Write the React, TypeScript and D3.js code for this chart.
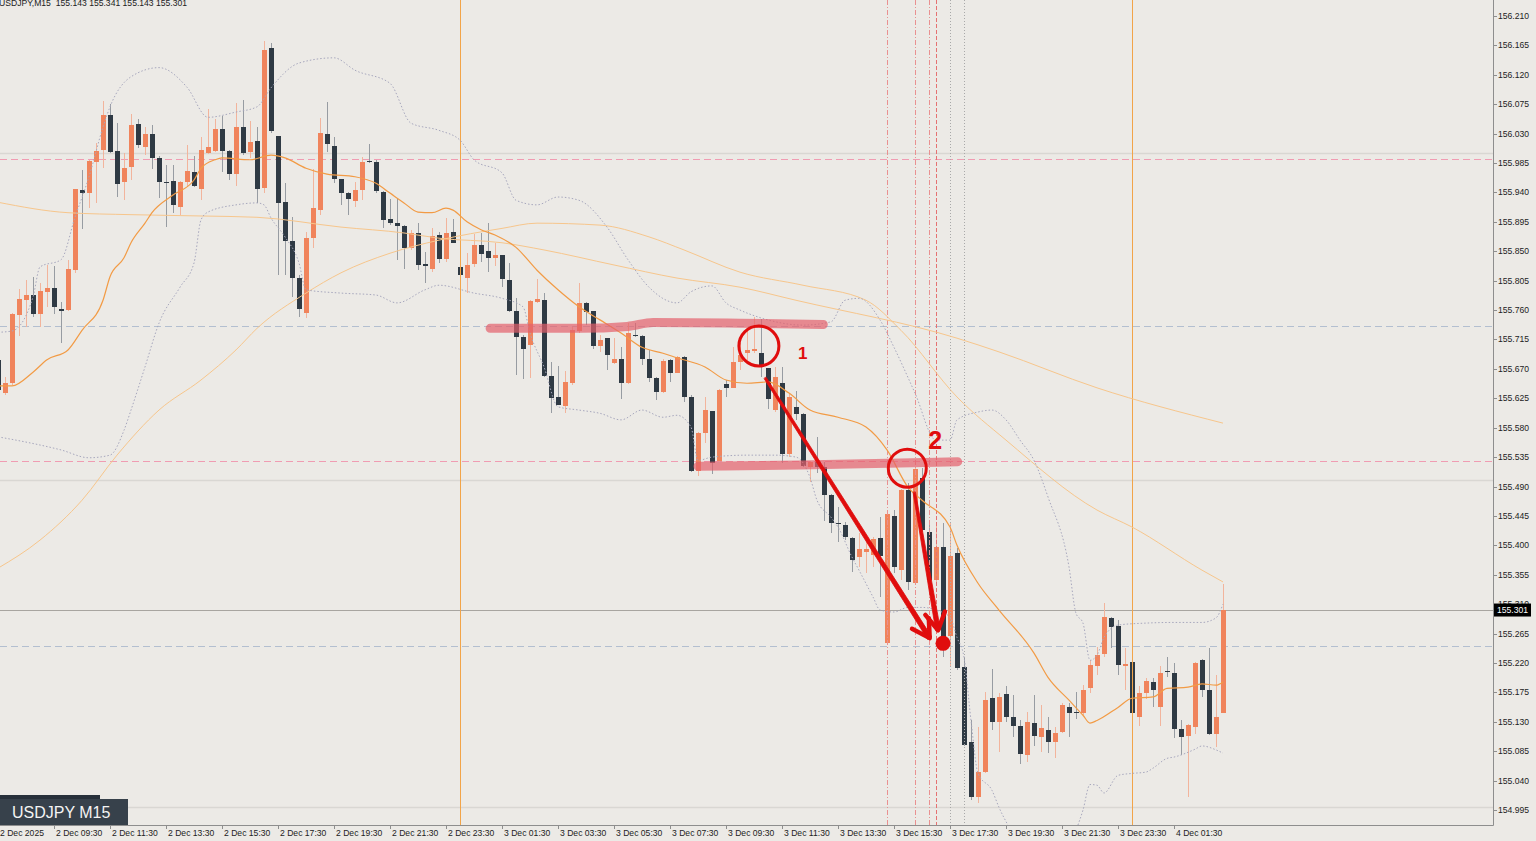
import React from 'react';
import * as d3 from 'd3';

const W = 1536;
const H = 841;
const PLOT_R = 1493;
const PLOT_B = 825;

const headerText = 'USDJPY,M15  155.143 155.341 155.143 155.301';
const symbolLabel = 'USDJPY M15';

// [open, high, low, close] for each 15-minute bar, starting 2 Dec 07:30
const ohlc: number[][] = [
[155.684,155.691,155.630,155.638],
[155.633,155.657,155.630,155.648],
[155.648,155.755,155.645,155.754],
[155.752,155.792,155.720,155.777],
[155.775,155.806,155.734,155.783],
[155.783,155.811,155.749,155.754],
[155.754,155.801,155.734,155.789],
[155.788,155.829,155.765,155.794],
[155.794,155.827,155.754,155.765],
[155.762,155.772,155.710,155.758],
[155.760,155.837,155.758,155.823],
[155.821,155.946,155.817,155.945],
[155.944,155.974,155.884,155.939],
[155.939,155.990,155.916,155.988],
[155.987,156.016,155.924,156.003],
[156.005,156.080,155.977,156.058],
[156.058,156.075,156.000,156.002],
[156.003,156.046,155.933,155.953],
[155.956,156.000,155.928,155.977],
[155.979,156.060,155.959,156.043],
[156.045,156.052,156.008,156.013],
[156.010,156.040,155.997,156.030],
[156.030,156.043,155.976,155.993],
[155.993,155.996,155.931,155.956],
[155.956,155.982,155.887,155.954],
[155.957,155.982,155.909,155.921],
[155.918,155.957,155.906,155.956],
[155.956,156.013,155.948,155.973],
[155.971,155.996,155.948,155.950],
[155.945,156.025,155.928,156.005],
[156.000,156.068,155.999,156.010],
[156.003,156.052,156.002,156.037],
[156.037,156.057,155.971,156.003],
[156.003,156.005,155.959,155.968],
[155.968,156.077,155.950,156.040],
[156.040,156.081,155.997,156.000],
[156.002,156.049,155.993,156.017],
[156.019,156.040,155.924,155.945],
[155.947,156.172,155.939,156.158],
[156.161,156.169,156.031,156.034],
[156.026,156.027,155.814,155.924],
[155.925,155.954,155.814,155.866],
[155.866,155.902,155.780,155.809],
[155.809,155.814,155.749,155.762],
[155.755,155.879,155.748,155.870],
[155.870,155.976,155.855,155.916],
[155.913,156.054,155.906,156.031],
[156.030,156.078,156.002,156.014],
[156.011,156.025,155.954,155.960],
[155.960,155.961,155.921,155.939],
[155.939,155.940,155.906,155.930],
[155.927,155.956,155.918,155.944],
[155.944,155.994,155.928,155.987],
[155.988,156.014,155.985,155.987],
[155.987,155.990,155.939,155.942],
[155.941,155.942,155.886,155.898],
[155.899,155.930,155.890,155.893],
[155.893,155.931,155.837,155.889],
[155.889,155.890,155.823,155.855],
[155.855,155.882,155.852,155.878],
[155.878,155.893,155.821,155.829],
[155.830,155.849,155.801,155.827],
[155.823,155.886,155.818,155.873],
[155.875,155.879,155.832,155.838],
[155.838,155.901,155.833,155.878],
[155.879,155.899,155.862,155.863],
[155.826,155.829,155.809,155.814],
[155.809,155.847,155.786,155.829],
[155.830,155.876,155.826,155.860],
[155.860,155.878,155.833,155.846],
[155.850,155.893,155.818,155.840],
[155.840,155.863,155.827,155.844],
[155.844,155.845,155.795,155.807],
[155.806,155.832,155.757,155.758],
[155.758,155.778,155.660,155.719],
[155.719,155.722,155.654,155.700],
[155.706,155.775,155.656,155.774],
[155.772,155.807,155.771,155.777],
[155.775,155.786,155.657,155.659],
[155.659,155.680,155.602,155.625],
[155.627,155.674,155.614,155.615],
[155.613,155.667,155.602,155.650],
[155.648,155.734,155.645,155.729],
[155.728,155.801,155.725,155.771],
[155.771,155.772,155.737,155.757],
[155.758,155.759,155.700,155.705],
[155.705,155.722,155.696,155.714],
[155.717,155.718,155.668,155.691],
[155.679,155.717,155.678,155.685],
[155.685,155.703,155.624,155.648],
[155.648,155.740,155.647,155.725],
[155.722,155.740,155.719,155.720],
[155.720,155.722,155.676,155.685],
[155.685,155.699,155.650,155.656],
[155.656,155.657,155.622,155.634],
[155.634,155.685,155.633,155.682],
[155.684,155.685,155.650,155.664],
[155.664,155.690,155.663,155.688],
[155.688,155.689,155.619,155.627],
[155.627,155.630,155.512,155.514],
[155.514,155.573,155.506,155.572],
[155.572,155.627,155.556,155.607],
[155.605,155.606,155.509,155.526],
[155.529,155.639,155.527,155.638],
[155.647,155.653,155.627,155.641],
[155.641,155.703,155.640,155.680],
[155.680,155.709,155.668,155.691],
[155.694,155.732,155.684,155.699],
[155.697,155.749,155.694,155.700],
[155.694,155.746,155.657,155.673],
[155.671,155.672,155.608,155.624],
[155.607,155.673,155.604,155.657],
[155.648,155.673,155.526,155.540],
[155.540,155.633,155.535,155.627],
[155.611,155.636,155.592,155.601],
[155.601,155.602,155.520,155.521],
[155.520,155.529,155.497,155.527],
[155.527,155.566,155.510,155.520],
[155.520,155.527,155.438,155.477],
[155.477,155.478,155.419,155.434],
[155.434,155.458,155.405,155.432],
[155.431,155.435,155.408,155.412],
[155.411,155.412,155.359,155.377],
[155.382,155.419,155.367,155.394],
[155.390,155.411,155.357,155.394],
[155.385,155.412,155.367,155.409],
[155.411,155.443,155.321,155.383],
[155.250,155.454,155.249,155.448],
[155.445,155.454,155.357,155.367],
[155.362,155.486,155.347,155.485],
[155.485,155.495,155.331,155.344],
[155.342,155.520,155.339,155.517],
[155.503,155.518,155.420,155.423],
[155.420,155.434,155.336,155.347],
[155.347,155.435,155.342,155.397],
[155.397,155.434,155.229,155.259],
[155.261,155.434,155.214,155.383],
[155.388,155.396,155.209,155.212],
[155.214,155.229,155.093,155.094],
[155.099,155.132,155.010,155.015],
[155.015,155.122,155.005,155.053],
[155.053,155.175,155.051,155.163],
[155.166,155.210,155.117,155.129],
[155.129,155.174,155.083,155.168],
[155.172,155.184,155.129,155.138],
[155.137,155.171,155.106,155.123],
[155.123,155.132,155.066,155.080],
[155.079,155.145,155.068,155.129],
[155.128,155.171,155.093,155.108],
[155.106,155.155,155.083,155.120],
[155.117,155.137,155.082,155.099],
[155.099,155.122,155.074,155.113],
[155.114,155.158,155.113,155.155],
[155.152,155.158,155.106,155.143],
[155.145,155.175,155.135,155.143],
[155.143,155.186,155.140,155.178],
[155.181,155.224,155.174,155.217],
[155.215,155.244,155.201,155.232],
[155.233,155.312,155.229,155.290],
[155.289,155.290,155.243,155.275],
[155.276,155.285,155.201,155.217],
[155.215,155.243,155.178,155.218],
[155.221,155.222,155.142,155.143],
[155.137,155.184,155.123,155.174],
[155.174,155.197,155.165,155.192],
[155.191,155.197,155.152,155.178],
[155.152,155.215,155.123,155.204],
[155.207,155.229,155.198,155.206],
[155.204,155.220,155.105,155.119],
[155.119,155.132,155.079,155.106],
[155.108,155.126,155.015,155.125],
[155.122,155.221,155.111,155.220],
[155.224,155.226,155.168,155.178],
[155.178,155.243,155.110,155.111],
[155.111,155.201,155.091,155.137],
[155.143,155.341,155.143,155.301],
];

const timeLabels = [
  '2 Dec 2025', '2 Dec 09:30', '2 Dec 11:30', '2 Dec 13:30', '2 Dec 15:30', '2 Dec 17:30',
  '2 Dec 19:30', '2 Dec 21:30', '2 Dec 23:30', '3 Dec 01:30', '3 Dec 03:30', '3 Dec 05:30',
  '3 Dec 07:30', '3 Dec 09:30', '3 Dec 11:30', '3 Dec 13:30', '3 Dec 15:30', '3 Dec 17:30',
  '3 Dec 19:30', '3 Dec 21:30', '3 Dec 23:30', '4 Dec 01:30',
];
const barsPerLabel = 8;

const priceTicks = [
  156.210, 156.165, 156.120, 156.075, 156.030, 155.985, 155.940, 155.895, 155.850, 155.805,
  155.760, 155.715, 155.670, 155.625, 155.580, 155.535, 155.490, 155.445, 155.400, 155.355,
  155.310, 155.265, 155.220, 155.175, 155.130, 155.085, 155.040, 154.995,
];

// indicator readings: [bar index, price]
const maFast: number[][] = [
[0,155.644],[2,155.644],[5,155.665],[7,155.684],[10,155.699],[12,155.729],[15,155.775],[16,155.811],
[18,155.840],[19,155.863],[21,155.893],[22,155.909],[25,155.936],[28,155.959],[29,155.977],[31,155.990],
[32,155.993],[36,155.990],[39,155.997],[41,155.993],[44,155.977],[47,155.968],[51,155.964],[54,155.954],
[56,155.939],[58,155.924],[60,155.910],[62,155.909],[64,155.916],[65,155.913],[67,155.895],[69,155.883],
[71,155.875],[74,155.856],[77,155.821],[80,155.791],[83,155.765],[86,155.745],[89,155.725],[92,155.703],
[95,155.694],[97,155.687],[101,155.673],[104,155.653],[107,155.648],[110,155.650],[113,155.633],[116,155.607],
[120,155.596],[124,155.581],[127,155.546],[130,155.489],[132,155.469],[136,155.428],[137,155.400],[140,155.342],
[143,155.301],[148,155.235],[150,155.198],[153,155.163],[155,155.140],[156,155.128],[157,155.132],[160,155.152],
[162,155.166],[165,155.168],[167,155.181],[170,155.183],[172,155.188],[174,155.186],[175,155.191],
];

const maMid: number[][] = [
[0,155.365],[6,155.408],[12,155.469],[17,155.538],[23,155.607],[29,155.653],[34,155.699],[37,155.732],
[44,155.786],[49,155.817],[56,155.847],[63,155.867],[72,155.885],[77,155.893],[86,155.890],[93,155.872],
[98,155.852],[106,155.818],[115,155.798],[124,155.775],[129,155.729],[137,155.627],[144,155.561],[157,155.454],
[162,155.428],[172,155.362],[175,155.344],
];

const maSlow: number[][] = [
[0,155.925],[10,155.909],[19,155.906],[29,155.904],[37,155.902],[49,155.887],[58,155.878],[63,155.870],
[72,155.863],[78,155.852],[88,155.829],[97,155.809],[106,155.795],[114,155.775],[137,155.717],[143,155.696],
[157,155.641],[175,155.587],
];

const bbUpper: number[][] = [
[0,155.726],[2,155.728],[5,155.780],[6,155.826],[9,155.837],[11,155.902],[13,155.964],[15,156.040],
[16,156.071],[19,156.117],[23,156.131],[27,156.101],[30,156.055],[34,156.063],[37,156.071],[39,156.100],
[43,156.138],[48,156.146],[51,156.127],[56,156.107],[59,156.046],[63,156.035],[66,156.020],[68,155.990],
[72,155.970],[74,155.928],[77,155.921],[80,155.933],[83,155.928],[87,155.887],[90,155.837],[93,155.795],
[97,155.771],[99,155.788],[102,155.797],[104,155.771],[106,155.760],[109,155.748],[115,155.737],[119,155.742],
[121,155.775],[123,155.778],[126,155.745],[128,155.703],[131,155.633],[134,155.561],[136,155.561],[137,155.592],
[140,155.604],[142,155.607],[144,155.592],[146,155.561],[148,155.530],[150,155.474],[153,155.367],[154,155.296],
[155,155.281],[156,155.224],[157,155.232],[158,155.259],[160,155.278],[164,155.281],[168,155.282],[172,155.282],
[174,155.289],[175,155.310],
];

const bbLower: number[][] = [
[0,155.566],[4,155.558],[9,155.546],[13,155.534],[16,155.538],[18,155.576],[19,155.607],[21,155.673],
[23,155.740],[26,155.795],[28,155.832],[29,155.898],[30,155.910],[34,155.921],[37,155.924],[38,155.921],
[39,155.901],[41,155.872],[43,155.832],[44,155.791],[49,155.786],[54,155.783],[57,155.771],[61,155.791],
[63,155.798],[68,155.786],[72,155.778],[75,155.765],[76,155.725],[78,155.673],[80,155.612],[83,155.607],
[86,155.602],[89,155.592],[92,155.607],[95,155.596],[97,155.599],[99,155.581],[100,155.530],[102,155.535],
[107,155.538],[111,155.538],[114,155.535],[116,155.504],[117,155.469],[119,155.443],[120,155.428],[122,155.382],
[123,155.362],[125,155.321],[126,155.301],[128,155.298],[130,155.305],[132,155.305],[134,155.301],[136,155.290],
[137,155.259],[138,155.229],[139,155.132],[140,155.051],[142,155.025],[143,154.999],[145,154.956],[147,154.903],
[150,154.888],[152,154.918],[154,154.964],[155,154.995],[156,155.034],[157,155.033],[158,155.021],[160,155.048],
[162,155.051],[164,155.053],[165,155.059],[167,155.074],[168,155.076],[171,155.088],[172,155.093],[174,155.087],
[175,155.082],
];

// horizontal levels (prices)
const roundLevels = [156.000, 155.500, 155.000];
const pinkLevels = [155.991, 155.529];
const blueLevels = [155.735, 155.246];
const lastPrice = 155.301;

// vertical markers (bar indices)
const daySeparators = [66, 162];
const redDashDotBars = [127, 131, 133];
const redDashBars = [134];
const grayDotBars = [136, 138];

// hand-drawn annotations: [bar index, price]
const zoneUpper: number[][] = [[70.3,155.732],[83.1,155.732],[89.9,155.735],[93.6,155.741],[106,155.740],[117.9,155.738]];
const zoneLower: number[][] = [[100,155.521],[114.6,155.523],[128.9,155.526],[137.1,155.528]];
const circles: number[][] = [[108.7,155.705],[129.9,155.518]];
const circleLabels = ['1', '2'];
const circleLabelPos: number[][] = [[114.3,155.685],[132.9,155.548]];
const arrows: number[][][] = [
  [[109.6,155.656],[133.1,155.258]],
  [[130.9,155.481],[134.3,155.270]],
];
const targetDot = [135.0, 155.250];

const x = d3.scaleLinear().domain([0, 175]).range([-2, 1223]);
const y = d3.scaleLinear().domain([154.995, 156.210]).range([810, 16]);

const BG = '#eceae6';
const BULL = '#f0845c';
const BULL_WICK = '#f2b49c';
const BEAR = '#2f3a44';
const BEAR_WICK = '#979ca2';
const FONT = '"Liberation Sans", Arial, sans-serif';

function linePath(pts: number[][]) {
  const g = d3.line<number[]>().x(d => x(d[0])).y(d => y(d[1])).curve(d3.curveMonotoneX);
  return g(pts) || '';
}

function Arrow({ pts }: { pts: number[][] }) {
  const x1 = x(pts[0][0]), y1 = y(pts[0][1]);
  const x2 = x(pts[1][0]), y2 = y(pts[1][1]);
  const ang = Math.atan2(y2 - y1, x2 - x1);
  const len = 20;
  const a1 = ang + Math.PI - 0.52;
  const a2 = ang + Math.PI + 0.52;
  const h1 = [x2 + len * Math.cos(a1), y2 + len * Math.sin(a1)];
  const h2 = [x2 + len * Math.cos(a2), y2 + len * Math.sin(a2)];
  // tapered shaft: thin at the start, thick at the tip
  const nx = -Math.sin(ang), ny = Math.cos(ang);
  const w0 = 1.2, w1 = 2.4;
  const shaft = `M${x1 + nx * w0},${y1 + ny * w0} L${x2 + nx * w1},${y2 + ny * w1} L${x2 - nx * w1},${y2 - ny * w1} L${x1 - nx * w0},${y1 - ny * w0} Z`;
  return (
    <g stroke="#e00d0d" strokeLinecap="round" strokeLinejoin="round">
      <path d={shaft} fill="#e00d0d" strokeWidth={0.8} />
      <polyline points={`${h1[0]},${h1[1]} ${x2},${y2} ${h2[0]},${h2[1]}`} fill="none" strokeWidth={4.5} />
    </g>
  );
}

export default function App() {
  const crisp = (v: number) => Math.round(v) + 0.5;
  return (
    <svg width={W} height={H} style={{ position: 'absolute', left: 0, top: 0, display: 'block' }}
      xmlns="http://www.w3.org/2000/svg">
      <defs>
        <clipPath id="plot"><rect x={0} y={0} width={PLOT_R} height={PLOT_B} /></clipPath>
      </defs>
      <rect x={0} y={0} width={W} height={H} fill={BG} />
      <g clipPath="url(#plot)">
        {roundLevels.map((p, i) => (
          <line key={'r' + i} x1={0} x2={PLOT_R} y1={crisp(y(p))} y2={crisp(y(p))} stroke="#d9d7d3" strokeWidth={1.5} />
        ))}
        {pinkLevels.map((p, i) => (
          <line key={'p' + i} x1={0} x2={PLOT_R} y1={crisp(y(p))} y2={crisp(y(p))} stroke="#f09cb2" strokeDasharray="7,4" />
        ))}
        {blueLevels.map((p, i) => (
          <line key={'b' + i} x1={0} x2={PLOT_R} y1={crisp(y(p))} y2={crisp(y(p))} stroke="#b3bfd0" strokeDasharray="7,4" />
        ))}
        <line x1={0} x2={PLOT_R} y1={crisp(y(lastPrice))} y2={crisp(y(lastPrice))} stroke="#a8a5a0" />

        {ohlc.map((d, i) => {
          const [o, h, l, c] = d;
          const cx = Math.round(x(i));
          const bull = c >= o;
          const top = Math.round(y(Math.max(o, c)));
          const bot = Math.round(y(Math.min(o, c)));
          return (
            <g key={i} shapeRendering="crispEdges">
              <line x1={cx + 0.5} x2={cx + 0.5} y1={y(h)} y2={y(l)} stroke={bull ? BULL_WICK : BEAR_WICK} strokeWidth={1} />
              <rect x={cx - 2} y={top} width={5} height={Math.max(1, bot - top)} fill={bull ? BULL : BEAR} />
            </g>
          );
        })}

        {daySeparators.map((b, i) => (
          <line key={'d' + i} x1={crisp(x(b))} x2={crisp(x(b))} y1={0} y2={PLOT_B} stroke="#f2a449" strokeWidth={1} />
        ))}
        {redDashDotBars.map((b, i) => (
          <line key={'rd' + i} x1={crisp(x(b))} x2={crisp(x(b))} y1={0} y2={PLOT_B} stroke="#e99090" strokeDasharray="5,2,1,2" />
        ))}
        {redDashBars.map((b, i) => (
          <line key={'rr' + i} x1={crisp(x(b))} x2={crisp(x(b))} y1={0} y2={PLOT_B} stroke="#e57272" strokeDasharray="4,2" />
        ))}
        {grayDotBars.map((b, i) => (
          <line key={'g' + i} x1={crisp(x(b))} x2={crisp(x(b))} y1={0} y2={PLOT_B} stroke="#a9a9a9" strokeDasharray="1,2" />
        ))}

        <path d={linePath(maSlow)} fill="none" stroke="#f7c68c" strokeWidth={1} />
        <path d={linePath(maMid)} fill="none" stroke="#f7c68c" strokeWidth={1} />
        <path d={linePath(bbUpper)} fill="none" stroke="#a7a7bd" strokeWidth={1} strokeDasharray="1.5,2" />
        <path d={linePath(bbLower)} fill="none" stroke="#a7a7bd" strokeWidth={1} strokeDasharray="1.5,2" />
        <path d={linePath(maFast)} fill="none" stroke="#f29b45" strokeWidth={1.2} />

        <path d={linePath(zoneUpper)} fill="none" stroke="#e4606b" strokeOpacity={0.7} strokeWidth={9} strokeLinecap="round" />
        <path d={linePath(zoneLower)} fill="none" stroke="#e4606b" strokeOpacity={0.7} strokeWidth={9} strokeLinecap="round" />
        {circles.map((c, i) => (
          <circle key={'c' + i} cx={x(c[0])} cy={y(c[1])} r={i === 0 ? 20 : 19} fill="none" stroke="#e00d0d" strokeWidth={3} />
        ))}
        {circleLabels.map((t, i) => (
          <text key={'cl' + i} x={x(circleLabelPos[i][0])} y={y(circleLabelPos[i][1])} fill="#e00d0d"
            fontFamily={FONT} fontWeight="bold" fontSize={i === 0 ? 17 : 25}>{t}</text>
        ))}
        {arrows.map((a, i) => <Arrow key={'a' + i} pts={a} />)}
        <circle cx={x(targetDot[0])} cy={y(targetDot[1])} r={7.5} fill="#e00d0d" />
      </g>

      {/* axes */}
      <line x1={PLOT_R + 0.5} x2={PLOT_R + 0.5} y1={0} y2={PLOT_B + 0.5} stroke="#8e8e8e" />
      <line x1={0} x2={PLOT_R + 0.5} y1={PLOT_B + 0.5} y2={PLOT_B + 0.5} stroke="#8e8e8e" />
      {priceTicks.map((p, i) => (
        <g key={'pt' + i}>
          <line x1={PLOT_R} x2={PLOT_R + 4} y1={crisp(y(p))} y2={crisp(y(p))} stroke="#8e8e8e" />
          <text x={PLOT_R + 5} y={y(p) + 3} fontFamily={FONT} fontSize={8.6} fill="#222">{p.toFixed(3)}</text>
        </g>
      ))}
      <rect x={PLOT_R + 1} y={y(lastPrice) - 6.5} width={37} height={13} fill="#000" />
      <text x={PLOT_R + 4} y={y(lastPrice) + 3.3} fontFamily={FONT} fontSize={8.6} fill="#fff">{lastPrice.toFixed(3)}</text>

      {timeLabels.map((t, i) => {
        const xi = Math.round(x(i * barsPerLabel));
        return (
          <g key={'tl' + i}>
            <line x1={xi + 0.5} x2={xi + 0.5} y1={PLOT_B} y2={PLOT_B + 4} stroke="#8e8e8e" />
            <text x={xi + 2} y={PLOT_B + 10.5} fontFamily={FONT} fontSize={8.6} fill="#222">{t}</text>
          </g>
        );
      })}

      <rect x={0} y={795} width={100} height={5} fill="#27303a" />
      <rect x={0} y={799} width={128} height={26} fill="#37414b" />
      <text x={12} y={818} fontFamily={FONT} fontSize={16} fill="#f4f4f4">{symbolLabel}</text>

      <text x={-1} y={6} fontFamily={FONT} fontSize={8.6} fill="#222" style={{ whiteSpace: 'pre' }}>{headerText}</text>
    </svg>
  );
}
